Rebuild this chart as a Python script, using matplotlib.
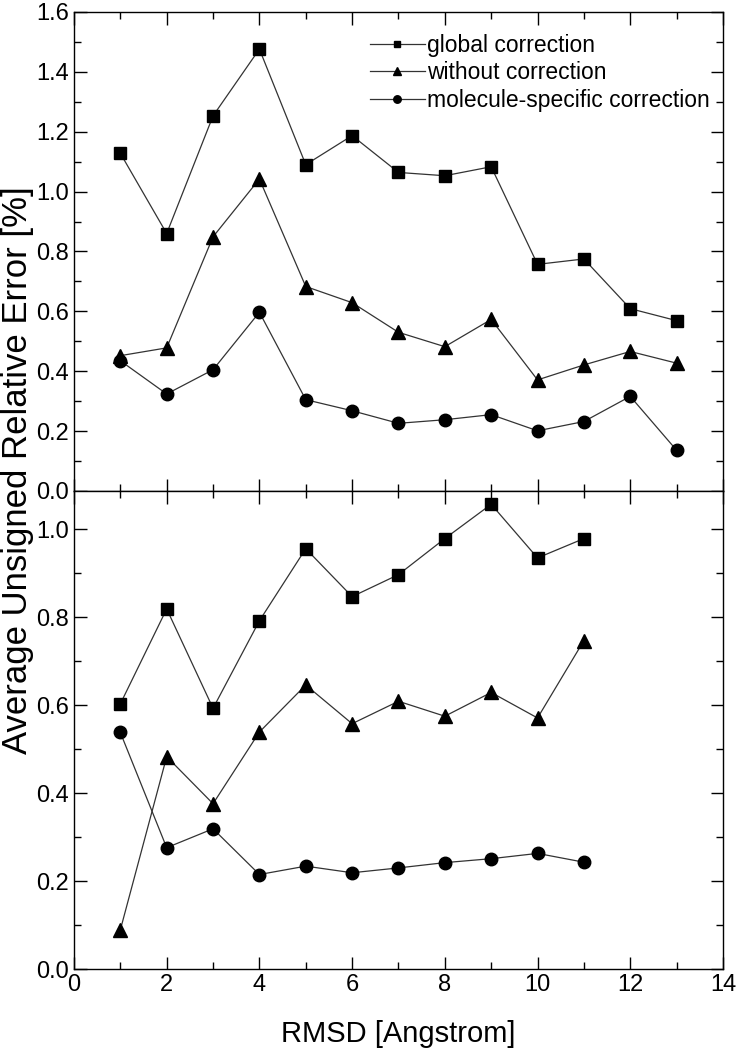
import numpy as np
import matplotlib.pyplot as plt
from matplotlib.ticker import MultipleLocator

plt.rcParams['font.family'] = ['Liberation Sans', 'DejaVu Sans']

# RMSD values
x_top = np.arange(1, 14)
x_bot = np.arange(1, 12)

# upper panel
global_top = [1.128, 0.860, 1.253, 1.476, 1.090, 1.187, 1.064, 1.053, 1.083, 0.757, 0.775, 0.609, 0.569]
without_top = [0.452, 0.478, 0.849, 1.042, 0.683, 0.629, 0.530, 0.482, 0.573, 0.371, 0.421, 0.466, 0.427]
molecule_top = [0.435, 0.324, 0.405, 0.597, 0.305, 0.268, 0.226, 0.238, 0.255, 0.201, 0.232, 0.316, 0.136]

# lower panel
global_bot = [0.603, 0.819, 0.593, 0.792, 0.956, 0.847, 0.897, 0.979, 1.057, 0.935, 0.979]
without_bot = [0.089, 0.483, 0.376, 0.539, 0.646, 0.558, 0.609, 0.575, 0.629, 0.571, 0.747]
molecule_bot = [0.538, 0.276, 0.319, 0.215, 0.234, 0.219, 0.230, 0.242, 0.251, 0.263, 0.243]

labels = ['global correction', 'without correction', 'molecule-specific correction']

fig = plt.figure(figsize=(7.39, 10.5), dpi=100)
ax1 = fig.add_axes([0.1001, 0.5324, 0.8782, 0.4562])
ax2 = fig.add_axes([0.1001, 0.0771, 0.8782, 0.4552])

line_kw = dict(color='#333333', linewidth=0.9, markerfacecolor='black', markeredgecolor='black')

ax1.plot(x_top, global_top, marker='s', markersize=8, label=labels[0], **line_kw)
ax1.plot(x_top, without_top, marker='^', markersize=10, label=labels[1], **line_kw)
ax1.plot(x_top, molecule_top, marker='o', markersize=9, label=labels[2], **line_kw)

ax2.plot(x_bot, global_bot, marker='s', markersize=8, **line_kw)
ax2.plot(x_bot, without_bot, marker='^', markersize=10, **line_kw)
ax2.plot(x_bot, molecule_bot, marker='o', markersize=9, **line_kw)

ax1.set_ylim(0, 1.6)
ax2.set_ylim(0, 1.087)

for ax in (ax1, ax2):
    ax.set_xlim(0, 14)
    ax.xaxis.set_major_locator(MultipleLocator(2))
    ax.xaxis.set_minor_locator(MultipleLocator(1))
    ax.yaxis.set_major_locator(MultipleLocator(0.2))
    ax.yaxis.set_minor_locator(MultipleLocator(0.1))
    ax.tick_params(which='both', direction='in', top=True, right=True, width=1.0, labelsize=17)
    ax.tick_params(which='major', length=9)
    ax.tick_params(which='minor', length=5)
    for s in ax.spines.values():
        s.set_linewidth(1.0)
    ax.yaxis.set_major_formatter(plt.FormatStrFormatter('%.1f'))

ax1.tick_params(labelbottom=False)
ax2.set_xlabel('RMSD [Angstrom]', fontsize=21, labelpad=17)
fig.text(0.024, 0.552, 'Average Unsigned Relative Error [%]', rotation=90,
         ha='center', va='center', fontsize=25)

ax1.legend(loc='upper left', bbox_to_anchor=(0.456, 0.955), frameon=False, fontsize=16.5,
           handlelength=2.4, handletextpad=0.1, labelspacing=0.2, markerscale=0.6,
           borderaxespad=0, borderpad=0)

fig.savefig('out.png', dpi=100)
